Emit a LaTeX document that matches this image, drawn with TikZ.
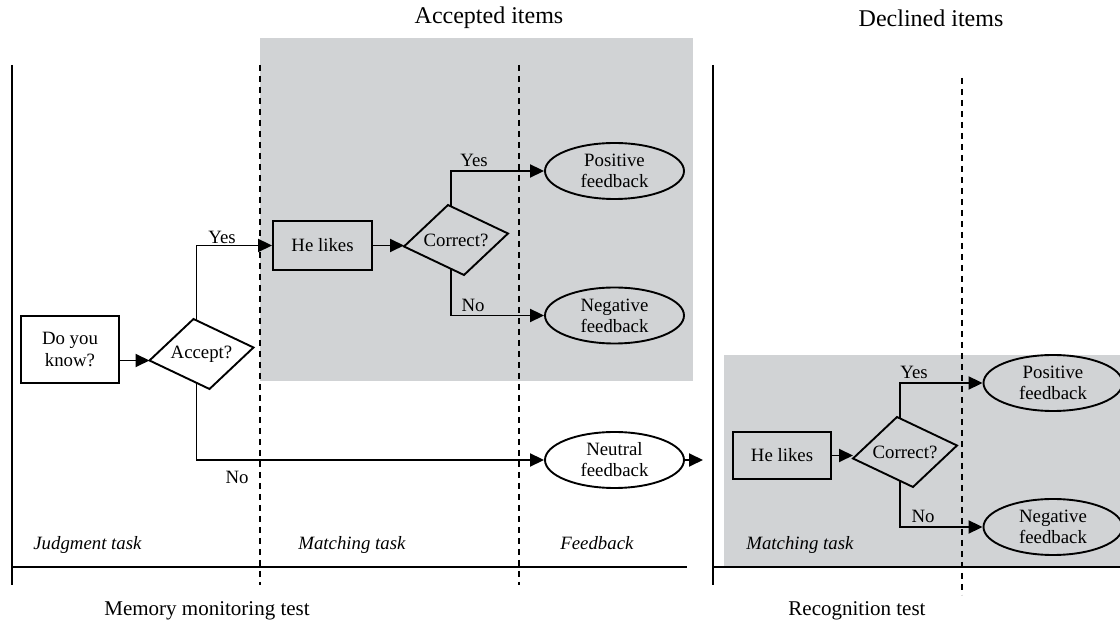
\documentclass[tikz,border=0pt]{standalone}
\usepackage{fontspec}
\setmainfont{Liberation Serif}
\usetikzlibrary{arrows.meta}
\usetikzlibrary{shapes.geometric}
\definecolor{panel}{RGB}{209,211,213}

% skewed decision box drawn round a named text node
\newcommand{\skewdia}[1]{%
  \draw[thick line] (#1) ++(-52,6.5) coordinate (#1-w) -- ++(44,-41.5) coordinate (#1-n)
    -- ++(60,28.5) coordinate (#1-e) -- ++(-44,41.5) coordinate (#1-s) -- cycle;
  \path (#1) ++(-5,-33.5) coordinate (#1-up);
  \path (#1) ++(-5,29) coordinate (#1-dn);}

\begin{document}
\begin{tikzpicture}[x=0.5pt,y=-0.5pt,
    thick line/.style={line width=0.95pt},
    arr/.style={thick line,-{Triangle[length=7pt,width=6.5pt]}},
    phase/.style={line width=0.95pt,dash pattern=on 3.2pt off 2.3pt},
    taskbox/.style={draw,thick line,rectangle,inner sep=2pt,align=center,font=\fontsize{9.4}{11}\selectfont},
    fbell/.style={draw,thick line,ellipse,inner sep=0pt,minimum width=69.5pt,minimum height=28pt,align=center,font=\fontsize{9.4}{10.5}\selectfont},
    query/.style={inner sep=0pt,font=\fontsize{9.4}{11}\selectfont},
    choice/.style={inner sep=1pt,font=\fontsize{9.4}{11}\selectfont},
    stage/.style={anchor=base west,inner sep=0pt,font=\fontsize{9.4}{11}\selectfont\itshape},
    heading/.style={inner sep=0pt,font=\fontsize{12}{14}\selectfont},
    footing/.style={inner sep=0pt,font=\fontsize{10.5}{12}\selectfont}]
  \useasboundingbox[fill=white] (0,0) rectangle (1120,624);

  % Shaded panels
  \fill[panel] (260,38) rectangle (693,381);
  \fill[panel] (724,355) rectangle (1120,567);

  % Time lines
  \draw[thick line] (12,65) -- (12,585);
  \draw[thick line] (12,567) -- (687,567);
  \draw[thick line] (713,65) -- (713,585);
  \draw[thick line] (713,567) -- (1120,567);
  \draw[phase] (260,65) -- (260,585);
  \draw[phase] (519,65) -- (519,585);
  \draw[phase] (962,78) -- (962,595);

  % Headings
  \node[heading] (acctitle) at (489,18) {Accepted items};
  \node[heading] (dectitle) at (931,18) {Declined items};
  \node[footing] (memtitle) at (207,611) {Memory monitoring test};
  \node[footing] (rectitle) at (857,611) {Recognition test};

  % Stage names
  \node[stage] (judgestage) at (33,550) {Judgment task};
  \node[stage] (matchstage) at (298,550) {Matching task};
  \node[stage] (fbstage) at (560,550) {Feedback};
  \node[stage] (matchstage2) at (746,550) {Matching task};

  % Memory monitoring test
  \node[taskbox,minimum width=49pt,minimum height=33.5pt] (know) at (70,349.5) {Do you\\know?};
  \node[query] (acc) at (201.5,354) {Accept?};
  \skewdia{acc}
  \node[taskbox,minimum width=49.5pt,minimum height=24.5pt] (like1) at (322.5,245.5) {He likes};
  \node[query] (cor1) at (456,240) {Correct?};
  \skewdia{cor1}
  \node[fbell] (pos1) at (614.5,171) {Positive\\feedback};
  \node[fbell] (neg1) at (614.5,315.5) {Negative\\feedback};
  \node[fbell] (neu) at (614.5,460) {Neutral\\feedback};
  \coordinate (handover) at (703,460);

  \draw[arr] (know.east |- acc-w) -- (acc-w);
  \draw[arr] (acc-up) |- (like1.west);
  \draw[arr] (acc-dn) |- (neu.west);
  \draw[arr] (like1.east) -- (like1.east -| cor1-w);
  \draw[arr] (cor1-up) |- (pos1.west);
  \draw[arr] (cor1-dn) |- (neg1.west);
  \draw[arr] (neu.east) -- (handover);

  \node[choice] (yes1) at (222,237) {Yes};
  \node[choice] (no1) at (237,477) {No};
  \node[choice] (yes2) at (474,160) {Yes};
  \node[choice] (no2) at (473,305) {No};

  % Recognition test
  \node[taskbox,minimum width=49pt,minimum height=23.5pt] (like2) at (782,455.5) {He likes};
  \node[query] (cor2) at (905,452) {Correct?};
  \skewdia{cor2}
  \node[fbell] (pos2) at (1053,383) {Positive\\feedback};
  \node[fbell] (neg2) at (1053,527) {Negative\\feedback};

  \draw[arr] (like2.east) -- (like2.east -| cor2-w);
  \draw[arr] (cor2-up) |- (pos2.west);
  \draw[arr] (cor2-dn) |- (neg2.west);

  \node[choice] (yes3) at (914,372) {Yes};
  \node[choice] (no3) at (923,516) {No};
\end{tikzpicture}
\end{document}
